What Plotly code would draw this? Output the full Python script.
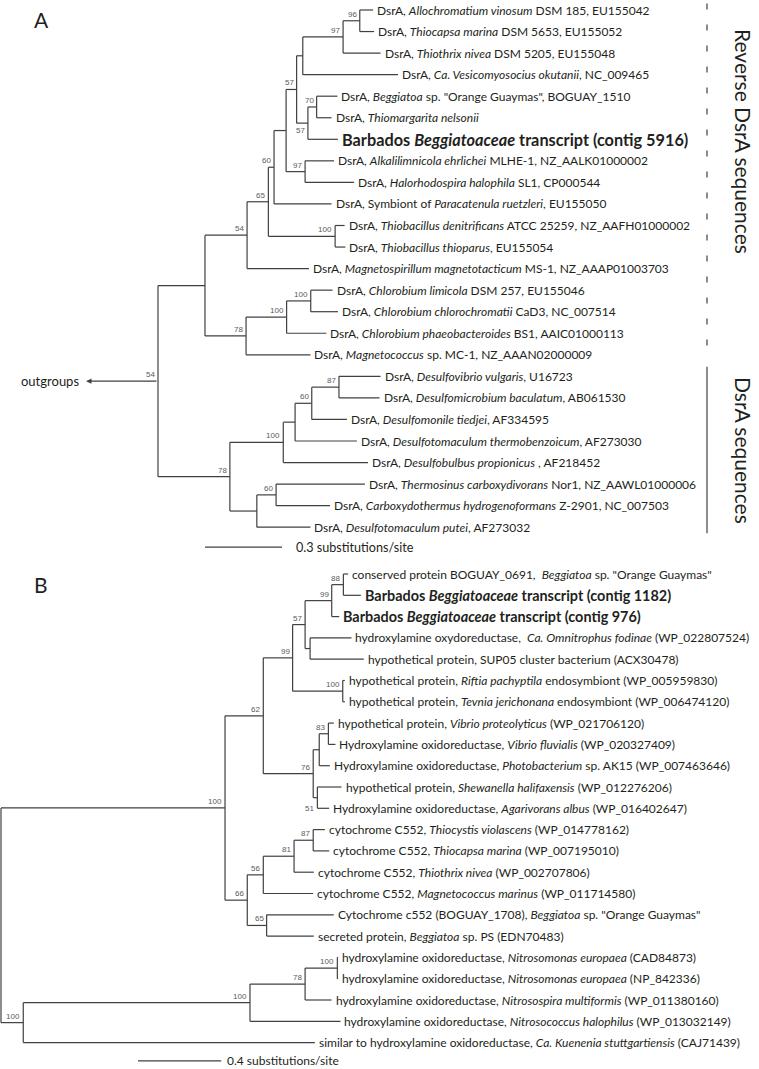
import plotly.graph_objects as go

W, H = 759, 1069
FONT = "Lato"
INK = "#231f20"
LINE = "#404040"
GREY = "#5a5a5a"

# ---------------- Panel A: DsrA tree (0.3 substitutions/site bar) ----------------
a_leaf_labels = [
    "DsrA, <i>Allochromatium vinosum</i> DSM 185, EU155042",
    "DsrA, <i>Thiocapsa marina</i> DSM 5653, EU155052",
    "DsrA, <i>Thiothrix nivea</i> DSM 5205, EU155048",
    "DsrA, <i>Ca. Vesicomyosocius okutanii</i>, NC_009465",
    "DsrA, <i>Beggiatoa</i> sp. \"Orange Guaymas\", BOGUAY_1510",
    "DsrA, <i>Thiomargarita nelsonii</i>",
    "<b>Barbados <i>Beggiatoaceae</i> transcript (contig 5916)</b>",
    "DsrA, <i>Alkalilimnicola ehrlichei</i> MLHE-1, NZ_AALK01000002",
    "DsrA, <i>Halorhodospira halophila</i> SL1, CP000544",
    "DsrA, Symbiont of <i>Paracatenula ruetzleri</i>, EU155050",
    "DsrA, <i>Thiobacillus denitrificans</i> ATCC 25259, NZ_AAFH01000002",
    "DsrA, <i>Thiobacillus thioparus</i>, EU155054",
    "DsrA, <i>Magnetospirillum magnetotacticum</i> MS-1, NZ_AAAP01003703",
    "DsrA, <i>Chlorobium limicola</i> DSM 257, EU155046",
    "DsrA, <i>Chlorobium chlorochromatii</i> CaD3, NC_007514",
    "DsrA, <i>Chlorobium phaeobacteroides</i> BS1, AAIC01000113",
    "DsrA, <i>Magnetococcus</i> sp. MC-1, NZ_AAAN02000009",
    "DsrA, <i>Desulfovibrio vulgaris</i>, U16723",
    "DsrA, <i>Desulfomicrobium baculatum</i>, AB061530",
    "DsrA, <i>Desulfomonile tiedjei</i>, AF334595",
    "DsrA, <i>Desulfotomaculum thermobenzoicum</i>, AF273030",
    "DsrA, <i>Desulfobulbus propionicus</i> , AF218452",
    "DsrA, <i>Thermosinus carboxydivorans</i> Nor1, NZ_AAWL01000006",
    "DsrA, <i>Carboxydothermus hydrogenoformans</i> Z-2901, NC_007503",
    "DsrA, <i>Desulfotomaculum putei</i>, AF273032",
]
a_leaf_x = [0.838, 0.842, 0.867, 0.935, 0.699, 0.676, 0.701, 0.686, 0.764, 0.676,
            0.727, 0.730, 0.588, 0.680, 0.701, 0.656, 0.594, 0.867, 0.863, 0.736,
            0.775, 0.818, 0.806, 0.670, 0.594]
a_node_names = ["root", "big", "n54", "n65", "n60", "nu", "n57t", "nv", "n97", "n96",
                "n57l", "n70", "n97b", "n100a", "n78a", "n100b", "n100c", "n78b",
                "n100d", "ny", "n60x", "n87", "ndp", "n60c"]
a_node_x = [0.000, 0.183, 0.347, 0.430, 0.452, 0.499, 0.540, 0.564, 0.721, 0.786,
            0.584, 0.618, 0.573, 0.690, 0.343, 0.501, 0.595, 0.280,
            0.488, 0.534, 0.599, 0.705, 0.385, 0.460]
a_node_children = [["big", "n78b"], ["n54", "n78a"], ["n65", 12], ["n60", "n100a"],
                   ["nu", 9], ["n57t", "n97b"], ["nv", "n57l"], ["n97", 3], ["n96", 2],
                   [0, 1], ["n70", 6], [4, 5], [7, 8], [10, 11], ["n100b", 16],
                   ["n100c", 15], [13, 14], ["n100d", "ndp"], ["ny", 21], ["n60x", 20],
                   ["n87", 19], [17, 18], ["n60c", 24], [22, 23]]
a_node_support = ["54", "", "54", "65", "60", "", "57", "", "97", "96",
                  "57", "70", "97", "100", "78", "100", "100", "78",
                  "100", "", "60", "87", "", "60"]
a_scale = 0.3

# ---------------- Panel B: HAO-like tree (0.4 substitutions/site bar) ----------------
b_leaf_labels = [
    "conserved protein BOGUAY_0691,  <i>Beggiatoa</i> sp. \"Orange Guaymas\"",
    "<b>Barbados <i>Beggiatoaceae</i> transcript (contig 1182)</b>",
    "<b>Barbados <i>Beggiatoaceae</i> transcript (contig 976)</b>",
    "hydroxylamine oxydoreductase,  <i>Ca. Omnitrophus fodinae</i> (WP_022807524)",
    "hypothetical protein, SUP05 cluster bacterium (ACX30478)",
    "hypothetical protein, <i>Riftia pachyptila</i> endosymbiont (WP_005959830)",
    "hypothetical protein, <i>Tevnia jerichonana</i> endosymbiont (WP_006474120)",
    "hypothetical protein, <i>Vibrio proteolyticus</i> (WP_021706120)",
    "Hydroxylamine oxidoreductase, <i>Vibrio fluvialis</i> (WP_020327409)",
    "Hydroxylamine oxidoreductase, <i>Photobacterium</i> sp. AK15 (WP_007463646)",
    "hypothetical protein, <i>Shewanella halifaxensis</i> (WP_012276206)",
    "Hydroxylamine oxidoreductase, <i>Agarivorans albus</i> (WP_016402647)",
    "cytochrome C552, <i>Thiocystis violascens</i> (WP_014778162)",
    "cytochrome C552, <i>Thiocapsa marina</i> (WP_007195010)",
    "cytochrome C552, <i>Thiothrix nivea</i> (WP_002707806)",
    "cytochrome C552, <i>Magnetococcus marinus</i> (WP_011714580)",
    "Cytochrome c552 (BOGUAY_1708), <i>Beggiatoa</i> sp. \"Orange Guaymas\"",
    "secreted protein, <i>Beggiatoa</i> sp. PS (EDN70483)",
    "hydroxylamine oxidoreductase, <i>Nitrosomonas europaea</i> (CAD84873)",
    "hydroxylamine oxidoreductase, <i>Nitrosomonas europaea</i> (NP_842336)",
    "hydroxylamine oxidoreductase, <i>Nitrosospira multiformis</i> (WP_011380160)",
    "hydroxylamine oxidoreductase, <i>Nitrosococcus halophilus</i> (WP_013032149)",
    "similar to hydroxylamine oxidoreductase, <i>Ca. Kuenenia stuttgartiensis</i> (CAJ71439)",
]
b_leaf_x = [1.669, 1.730, 1.626, 1.685, 1.744, 1.653, 1.653, 1.600, 1.608, 1.581,
            1.637, 1.578, 1.557, 1.578, 1.504, 1.501, 1.600, 1.504, 1.621, 1.621,
            1.589, 1.632, 1.509]
b_node_names = ["root", "n100k", "n100n", "n78", "n100e", "n100m", "n62", "n99b", "n57",
                "n99", "n88", "noh", "n100r", "n76", "nv2", "n83", "n51", "n66", "n56",
                "n81", "n87", "n65"]
b_node_x = [0.000, 0.107, 1.197, 1.462, 1.617, 1.077, 1.261, 1.402, 1.462,
            1.590, 1.646, 1.486, 1.643, 1.501, 1.530, 1.574, 1.521, 1.184, 1.261,
            1.409, 1.501, 1.277]
b_node_children = [["n100m", "n100k"], ["n100n", 22], ["n78", 21], ["n100e", 20], [18, 19],
                   ["n62", "n66"], ["n99b", "n76"], ["n57", "n100r"], ["n99", "noh"],
                   ["n88", 2], [0, 1], [3, 4], [5, 6], ["nv2", "n51"], ["n83", 9], [7, 8],
                   [10, 11], ["n56", "n65"], ["n81", 15], ["n87", 14], [12, 13], [16, 17]]
b_node_support = ["", "100", "100", "78", "100", "100", "62", "99", "57",
                  "99", "88", "", "100", "76", "", "83", "51", "66", "56",
                  "81", "87", "65"]
b_scale = 0.4


def place_tree(leaf_x, names, xs, children):
    pos = {i: (x, float(i)) for i, x in enumerate(leaf_x)}
    node_x = dict(zip(names, xs))
    kids = dict(zip(names, children))

    def place(n):
        if n not in pos:
            ys = [place(c)[1] for c in kids[n]]
            pos[n] = (node_x[n], (min(ys) + max(ys)) / 2)
        return pos[n]

    for n in names:
        place(n)
    return pos


def branch_xy(pos, names, children):
    lx, ly = [], []
    for n, ch in zip(names, children):
        x0 = pos[n][0]
        ys = [pos[c][1] for c in ch]
        lx += [x0, x0, None]
        ly += [min(ys), max(ys), None]
        for c in ch:
            lx += [x0, pos[c][0], None]
            ly += [pos[c][1], pos[c][1], None]
    return lx, ly


fig = go.Figure()
notes = []

panels = [
    dict(xa="x", ya="y", leaf_x=a_leaf_x, labels=a_leaf_labels, names=a_node_names,
         xs=a_node_x, kids=a_node_children, sup=a_node_support, fs=12, bfs=16.3,
         ppu=256.7, root_px=158, row0=10, row_h=21.55),
    dict(xa="x2", ya="y2", leaf_x=b_leaf_x, labels=b_leaf_labels, names=b_node_names,
         xs=b_node_x, kids=b_node_children, sup=b_node_support, fs=12, bfs=14.4,
         ppu=208, root_px=1, row0=574, row_h=21.3),
]

for p in panels:
    pos = place_tree(p["leaf_x"], p["names"], p["xs"], p["kids"])
    p["pos"] = pos
    lx, ly = branch_xy(pos, p["names"], p["kids"])
    fig.add_trace(go.Scatter(x=lx, y=ly, mode="lines", xaxis=p["xa"], yaxis=p["ya"],
                             line=dict(color=LINE, width=1.2), hoverinfo="skip",
                             showlegend=False))
    for i, (lab, x) in enumerate(zip(p["labels"], p["leaf_x"])):
        bold = lab.startswith("<b>")
        notes.append(dict(x=x, y=i, xref=p["xa"], yref=p["ya"], text=lab, showarrow=False,
                          xanchor="left", yanchor="middle", xshift=2,
                          font=dict(family=FONT, size=p["bfs"] if bold else p["fs"], color=INK)))
    kid_map = dict(zip(p["names"], p["kids"]))
    for n, s in zip(p["names"], p["sup"]):
        if not s:
            continue
        x, y = pos[n]
        spot = "above"
        if p["xa"] == "x" and n == "n57l":
            spot = "below"
        if p["xa"] == "x2" and n == "n51":
            spot = "low"
        if spot == "low":
            y = max(pos[c][1] for c in kid_map[n])
            ya, ys = "middle", 0
        elif spot == "below":
            ya, ys = "top", -1
        else:
            ya, ys = "bottom", 0
        notes.append(dict(x=x, y=y, xref=p["xa"], yref=p["ya"], text=s, showarrow=False,
                          xanchor="right", yanchor=ya, xshift=-1, yshift=ys,
                          font=dict(family="Liberation Sans", size=8, color=GREY)))

# scale bars
pa, pb = panels
for p, length, row, gap, fsz in [(pa, a_scale, 24.92, 12, 12.6), (pb, b_scale, 22.86, 4, 12)]:
    x0 = (205 - 158) / 256.7 if p is pa else (138 - 1) / 208
    fig.add_trace(go.Scatter(x=[x0, x0 + length], y=[row, row], mode="lines",
                             xaxis=p["xa"], yaxis=p["ya"], line=dict(color=LINE, width=1.2),
                             hoverinfo="skip", showlegend=False))
    notes.append(dict(x=x0 + length, y=row, xref=p["xa"], yref=p["ya"],
                      text=f"{length} substitutions/site", showarrow=False, xanchor="left",
                      yanchor="middle", xshift=gap, font=dict(family=FONT, size=fsz, color=INK)))

# outgroup arrow at root of panel A
root_x, root_y = pa["pos"]["root"]
notes.append(dict(x=-0.280, y=root_y, ax=root_x, ay=root_y, xref="x", yref="y",
                  axref="x", ayref="y", text="", showarrow=True, arrowhead=2,
                  arrowsize=0.9, arrowwidth=1.2, arrowcolor=LINE, standoff=0))
notes.append(dict(x=-0.300, y=root_y, xref="x", yref="y", text="outgroups", showarrow=False,
                  xanchor="right", yanchor="middle", font=dict(family=FONT, size=13, color=INK)))

# group brackets on the right of panel A
bx = (707 - 158) / 256.7
fig.add_trace(go.Scatter(x=[bx, bx], y=[-0.3, 15.9], mode="lines", xaxis="x", yaxis="y",
                         line=dict(color=LINE, width=1.2, dash="6px,15px"),
                         hoverinfo="skip", showlegend=False))
fig.add_trace(go.Scatter(x=[bx, bx], y=[16.55, 24.28], mode="lines", xaxis="x", yaxis="y",
                         line=dict(color=LINE, width=1.2), hoverinfo="skip", showlegend=False))
tx = (744 - 158) / 256.7
notes.append(dict(x=tx, y=6.08, xref="x", yref="y", text="Reverse DsrA sequences",
                  showarrow=False, textangle=90, font=dict(family=FONT, size=21, color=INK)))
notes.append(dict(x=tx, y=20.42, xref="x", yref="y", text="DsrA sequences",
                  showarrow=False, textangle=90, font=dict(family=FONT, size=21, color=INK)))

# panel letters
for letter, ypx in [("A", 20), ("B", 584)]:
    notes.append(dict(x=32 / W, y=1 - ypx / H, xref="paper", yref="paper", text=letter,
                      showarrow=False, xanchor="left", yanchor="middle",
                      font=dict(family=FONT, size=21, color=INK)))

ax_common = dict(visible=False, showgrid=False, zeroline=False, fixedrange=True)
fig.update_layout(
    width=W, height=H,
    margin=dict(l=0, r=0, t=0, b=0, pad=0),
    plot_bgcolor="white", paper_bgcolor="white",
    showlegend=False,
    xaxis=dict(range=[-pa["root_px"] / pa["ppu"], (W - pa["root_px"]) / pa["ppu"]],
               domain=[0, 1], **ax_common),
    yaxis=dict(range=[(H - pa["row0"]) / pa["row_h"], -pa["row0"] / pa["row_h"]],
               domain=[0, 1], **ax_common),
    xaxis2=dict(range=[-pb["root_px"] / pb["ppu"], (W - pb["root_px"]) / pb["ppu"]],
                domain=[0, 1], overlaying="x", **ax_common),
    yaxis2=dict(range=[(H - pb["row0"]) / pb["row_h"], -pb["row0"] / pb["row_h"]],
                domain=[0, 1], overlaying="y", **ax_common),
    annotations=notes,
)

fig.write_html("out.html", config={"displayModeBar": False},
               post_script="document.body.style.margin='0';")
